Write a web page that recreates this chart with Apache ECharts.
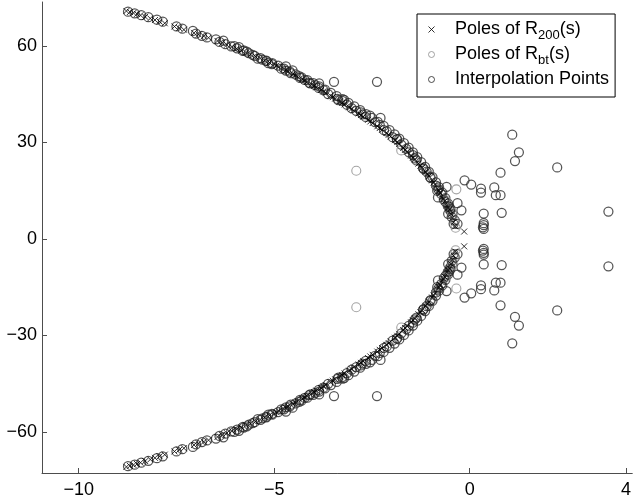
<!DOCTYPE html>
<html>
<head>
<meta charset="utf-8">
<script src="https://cdn.jsdelivr.net/npm/echarts@6/dist/echarts.min.js"></script>
<style>
  html, body { margin: 0; padding: 0; background: #fff; }
  #chart { width: 634px; height: 500px; }
</style>
</head>
<body>
<div id="chart"></div>
<script>
// Tick positions on both axes
const xTicks = [-10, -5, 0, 4];
const yTicks = [-60, -30, 0, 30, 60];

// Legend entries
const names = ['Poles of R200(s)', 'Poles of Rbt(s)', 'Interpolation Points'];

// Poles of R_200(s), upper half plane  [Re, Im]
const polesR200Upper = [
  [-8.78,70.8],[-8.69,70.5],[-8.60,70.2],[-8.51,69.9],[-8.42,69.5],[-8.30,69.0],[-8.17,68.5],[-8.05,68.0],[-7.93,67.5],[-7.80,67.0],
  [-7.55,66.0],[-7.43,65.5],[-7.31,65.0],
  [-7.05,64.0],[-6.93,63.5],[-6.80,63.0],[-6.68,62.5],
  [-6.45,61.5],[-6.33,60.9],[-6.21,60.3],[-6.08,59.7],[-5.96,59.1],[-5.84,58.5],[-5.72,57.9],[-5.60,57.3],[-5.48,56.7],
  [-5.36,56.1],[-5.24,55.4],[-5.12,54.8],[-5.00,54.2],[-4.94,53.85],[-4.88,53.5],[-4.76,52.8],[-4.70,52.4],[-4.64,52.0],
  [-4.52,51.2],[-4.46,50.8],[-4.40,50.4],[-4.28,49.6],[-4.22,49.2],[-4.16,48.8],[-4.04,48.0],[-3.98,47.55],[-3.92,47.1],
  [-3.80,46.3],[-3.74,45.85],[-3.68,45.4],[-3.56,44.5],[-3.50,44.05],[-3.44,43.6],[-3.32,42.7],[-3.26,42.25],[-3.20,41.8],
  [-3.08,40.9],[-3.02,40.4],[-2.96,39.9],[-2.84,39.0],[-2.78,38.5],[-2.72,38.0],[-2.60,37.0],[-2.54,36.5],[-2.48,36.0],
  [-2.36,35.0],[-2.30,34.45],[-2.24,33.9],[-2.13,32.9],[-2.07,32.35],[-2.02,31.8],[-1.91,30.7],[-1.85,30.1],[-1.80,29.5],
  [-1.70,28.3],[-1.65,27.7],[-1.60,27.1],[-1.50,25.9],[-1.45,25.3],[-1.40,24.7],[-1.31,23.4],[-1.26,22.75],[-1.22,22.1],
  [-1.13,20.8],[-1.08,20.15],[-1.04,19.5],[-0.96,18.2],[-0.92,17.55],[-0.89,16.9],[-0.82,15.6],[-0.79,14.95],[-0.76,14.3],
  [-0.70,13.0],[-0.67,12.35],[-0.64,11.7],[-0.58,10.4],[-0.55,9.75],[-0.52,9.1],[-0.48,7.8],[-0.44,6.5],[-0.41,5.2],
  [-0.37,3.9],[-0.14,2.3]
];
// Poles of R_200(s), lower half plane
const polesR200Lower = [
  [-8.78,-70.8],[-8.69,-70.5],[-8.60,-70.2],[-8.51,-69.9],[-8.42,-69.5],[-8.30,-69.0],[-8.17,-68.5],[-8.05,-68.0],[-7.93,-67.5],[-7.80,-67.0],
  [-7.55,-66.0],[-7.43,-65.5],[-7.31,-65.0],
  [-7.05,-64.0],[-6.93,-63.5],[-6.80,-63.0],[-6.68,-62.5],
  [-6.45,-61.5],[-6.33,-60.9],[-6.21,-60.3],[-6.08,-59.7],[-5.96,-59.1],[-5.84,-58.5],[-5.72,-57.9],[-5.60,-57.3],[-5.48,-56.7],
  [-5.36,-56.1],[-5.24,-55.4],[-5.12,-54.8],[-5.00,-54.2],[-4.94,-53.85],[-4.88,-53.5],[-4.76,-52.8],[-4.70,-52.4],[-4.64,-52.0],
  [-4.52,-51.2],[-4.46,-50.8],[-4.40,-50.4],[-4.28,-49.6],[-4.22,-49.2],[-4.16,-48.8],[-4.04,-48.0],[-3.98,-47.55],[-3.92,-47.1],
  [-3.80,-46.3],[-3.74,-45.85],[-3.68,-45.4],[-3.56,-44.5],[-3.50,-44.05],[-3.44,-43.6],[-3.32,-42.7],[-3.26,-42.25],[-3.20,-41.8],
  [-3.08,-40.9],[-3.02,-40.4],[-2.96,-39.9],[-2.84,-39.0],[-2.78,-38.5],[-2.72,-38.0],[-2.60,-37.0],[-2.54,-36.5],[-2.48,-36.0],
  [-2.36,-35.0],[-2.30,-34.45],[-2.24,-33.9],[-2.13,-32.9],[-2.07,-32.35],[-2.02,-31.8],[-1.91,-30.7],[-1.85,-30.1],[-1.80,-29.5],
  [-1.70,-28.3],[-1.65,-27.7],[-1.60,-27.1],[-1.50,-25.9],[-1.45,-25.3],[-1.40,-24.7],[-1.31,-23.4],[-1.26,-22.75],[-1.22,-22.1],
  [-1.13,-20.8],[-1.08,-20.15],[-1.04,-19.5],[-0.96,-18.2],[-0.92,-17.55],[-0.89,-16.9],[-0.82,-15.6],[-0.79,-14.95],[-0.76,-14.3],
  [-0.70,-13.0],[-0.67,-12.35],[-0.64,-11.7],[-0.58,-10.4],[-0.55,-9.75],[-0.52,-9.1],[-0.48,-7.8],[-0.44,-6.5],[-0.41,-5.2],
  [-0.37,-3.9],[-0.14,-2.3]
];

// Poles of the balanced-truncation model R_bt(s)
const polesRbt = [
  [-2.90,21.2],[-0.34,15.4],[-0.62,12.0],[-0.45,8.2],[-0.38,5.5],[-0.36,3.5],[-1.00,19.8],[-1.75,27.5],
  [-2.90,-21.2],[-0.34,-15.4],[-0.62,-12.0],[-0.45,-8.2],[-0.38,-5.5],[-0.36,-3.5],[-1.00,-19.8],[-1.75,-27.5]
];

// Interpolation points, upper half plane
const interpUpper = [
  [-8.74,70.6],[-8.57,70.1],[-8.40,69.5],[-8.22,68.9],[-8.00,68.1],[-7.85,67.5],
  [-7.50,66.0],[-7.35,65.3],[-7.08,64.6],[-7.00,63.8],[-6.85,63.1],[-6.72,62.6],[-6.49,62.0],
  [-6.40,61.2],[-6.30,61.6],[-6.25,60.5],[-6.10,59.8],[-5.90,59.6],[-5.95,59.2],[-5.80,58.4],[-5.65,57.7],[-5.50,56.9],
  [-5.42,56.0],[-5.35,56.2],[-5.20,55.4],[-5.15,54.6],[-5.05,54.6],[-4.90,53.8],[-4.82,52.9],[-4.75,52.9],[-4.70,53.6],
  [-4.53,52.4],[-4.60,52.0],[-4.45,51.1],[-4.36,50.6],[-4.30,50.2],[-4.15,49.3],[-4.08,48.3],[-3.85,48.3],[-3.47,48.8],
  [-2.37,48.8],[-4.00,48.4],[-3.95,47.8],[-3.85,47.4],[-3.70,46.4],[-3.62,45.0],[-3.55,45.4],[-3.40,44.4],[-3.36,43.1],
  [-3.21,43.2],[-3.25,43.4],[-3.10,42.3],[-3.02,40.6],[-2.95,41.2],[-2.80,40.0],[-2.74,38.7],[-2.65,38.8],[-2.55,38.3],
  [-2.50,37.6],[-2.28,37.6],[-2.42,36.3],[-2.35,36.4],[-2.20,35.1],[-2.12,33.4],[-2.05,33.8],[-1.92,32.5],[-1.86,31.0],
  [-1.80,31.2],[-1.68,29.8],[-1.62,28.0],[-1.56,28.4],[-1.45,26.9],[-1.40,25.0],[-1.34,25.4],[-1.24,23.9],[-1.19,22.0],
  [-1.14,22.4],[-1.04,20.8],[-1.00,19.0],[-0.95,19.2],[-0.86,17.6],[-0.59,16.2],[-0.78,16.0],[-0.83,15.0],[-0.81,12.9],
  [-0.70,14.4],[-0.62,12.7],[-0.66,12.2],[-0.31,11.1],[-0.55,11.0],[-0.52,10.0],[-0.21,8.9],[-0.49,9.3],[-0.55,7.8],
  [-0.44,7.6],[-0.46,6.8],[-0.41,4.7],[-0.31,4.7],[-0.38,5.8],
  [-6.02,59.9],[-5.78,58.6],[-5.55,57.2],[-5.30,55.7],[-5.06,54.3],[-4.58,51.5],[-4.34,50.0],[-4.10,48.5],
  [-3.86,46.9],[-3.38,43.5],[-3.14,41.7],[-2.90,39.8],[-2.66,37.9],[-2.19,33.8],[-1.97,31.6],[-1.75,29.3],
  [-1.55,26.9],[-1.36,24.4],[-1.18,21.8],[-1.01,19.2],[-0.86,16.6],[-0.73,14.0],[-0.61,11.4],[-0.50,8.8],
  [-5.70,58.2],[-5.20,55.2],[-4.70,52.3],[-4.22,49.4],[-3.74,46.2],[-3.26,42.9],[-2.78,39.3],[-2.30,35.4],
  [-1.86,30.9],[-1.45,26.0],[-1.10,20.9],[-0.80,15.4],[-0.56,10.3],
  [1.09,32.4],[1.26,26.9],[1.16,24.2],[2.24,22.2],[0.79,20.6],[3.55,8.5],[0.63,16.0],[0.29,15.6],
  [0.29,14.4],[0.67,13.6],[0.79,13.6],[0.36,7.9],[0.82,8.1],[0.36,4.9],[0.36,4.3],[0.34,3.6],[0.36,3.1],
  [-0.13,18.2],[0.04,16.9]
];
// Interpolation points, lower half plane
const interpLower = [
  [-8.74,-70.6],[-8.57,-70.1],[-8.40,-69.5],[-8.22,-68.9],[-8.00,-68.1],[-7.85,-67.5],
  [-7.50,-66.0],[-7.35,-65.3],[-7.08,-64.6],[-7.00,-63.8],[-6.85,-63.1],[-6.72,-62.6],[-6.49,-62.0],
  [-6.40,-61.2],[-6.30,-61.6],[-6.25,-60.5],[-6.10,-59.8],[-5.90,-59.6],[-5.95,-59.2],[-5.80,-58.4],[-5.65,-57.7],[-5.50,-56.9],
  [-5.42,-56.0],[-5.35,-56.2],[-5.20,-55.4],[-5.15,-54.6],[-5.05,-54.6],[-4.90,-53.8],[-4.82,-52.9],[-4.75,-52.9],[-4.70,-53.6],
  [-4.53,-52.4],[-4.60,-52.0],[-4.45,-51.1],[-4.36,-50.6],[-4.30,-50.2],[-4.15,-49.3],[-4.08,-48.3],[-3.85,-48.3],[-3.47,-48.8],
  [-2.37,-48.8],[-4.00,-48.4],[-3.95,-47.8],[-3.85,-47.4],[-3.70,-46.4],[-3.62,-45.0],[-3.55,-45.4],[-3.40,-44.4],[-3.36,-43.1],
  [-3.21,-43.2],[-3.25,-43.4],[-3.10,-42.3],[-3.02,-40.6],[-2.95,-41.2],[-2.80,-40.0],[-2.74,-38.7],[-2.65,-38.8],[-2.55,-38.3],
  [-2.50,-37.6],[-2.28,-37.6],[-2.42,-36.3],[-2.35,-36.4],[-2.20,-35.1],[-2.12,-33.4],[-2.05,-33.8],[-1.92,-32.5],[-1.86,-31.0],
  [-1.80,-31.2],[-1.68,-29.8],[-1.62,-28.0],[-1.56,-28.4],[-1.45,-26.9],[-1.40,-25.0],[-1.34,-25.4],[-1.24,-23.9],[-1.19,-22.0],
  [-1.14,-22.4],[-1.04,-20.8],[-1.00,-19.0],[-0.95,-19.2],[-0.86,-17.6],[-0.59,-16.2],[-0.78,-16.0],[-0.83,-15.0],[-0.81,-12.9],
  [-0.70,-14.4],[-0.62,-12.7],[-0.66,-12.2],[-0.31,-11.1],[-0.55,-11.0],[-0.52,-10.0],[-0.21,-8.9],[-0.49,-9.3],[-0.55,-7.8],
  [-0.44,-7.6],[-0.46,-6.8],[-0.41,-4.7],[-0.31,-4.7],[-0.38,-5.8],
  [-6.02,-59.9],[-5.78,-58.6],[-5.55,-57.2],[-5.30,-55.7],[-5.06,-54.3],[-4.58,-51.5],[-4.34,-50.0],[-4.10,-48.5],
  [-3.86,-46.9],[-3.38,-43.5],[-3.14,-41.7],[-2.90,-39.8],[-2.66,-37.9],[-2.19,-33.8],[-1.97,-31.6],[-1.75,-29.3],
  [-1.55,-26.9],[-1.36,-24.4],[-1.18,-21.8],[-1.01,-19.2],[-0.86,-16.6],[-0.73,-14.0],[-0.61,-11.4],[-0.50,-8.8],
  [-5.70,-58.2],[-5.20,-55.2],[-4.70,-52.3],[-4.22,-49.4],[-3.74,-46.2],[-3.26,-42.9],[-2.78,-39.3],[-2.30,-35.4],
  [-1.86,-30.9],[-1.45,-26.0],[-1.10,-20.9],[-0.80,-15.4],[-0.56,-10.3],
  [1.09,-32.4],[1.26,-26.9],[1.16,-24.2],[2.24,-22.2],[0.79,-20.6],[3.55,-8.5],[0.63,-16.0],[0.29,-15.6],
  [0.29,-14.4],[0.67,-13.6],[0.79,-13.6],[0.36,-7.9],[0.82,-8.1],[0.36,-4.9],[0.36,-4.3],[0.34,-3.6],[0.36,-3.1],
  [-0.13,-18.2],[0.04,-16.9]
];

const FONT = 'Liberation Sans, Arial, Helvetica, sans-serif';
const CROSS = 'path://M0,0L10,10M10,0L0,10';
const minus = v => String(v).replace('-', '\u2212');

const axisCommon = {
  type: 'value',
  splitLine: { show: false },
  axisLine: { onZero: false, lineStyle: { color: '#4d4d4d', width: 1 } },
  axisTick: { inside: true, length: 5, lineStyle: { color: '#4d4d4d', width: 1 } },
  axisLabel: { color: '#000', fontSize: 18, fontFamily: FONT, formatter: minus }
};

const chart = echarts.init(document.getElementById('chart'), null, { renderer: 'canvas' });

chart.setOption({
  animation: false,
  backgroundColor: '#fff',
  grid: { left: 42, right: 0, top: 2, bottom: 27, containLabel: false },
  xAxis: Object.assign({}, axisCommon, {
    min: -10.94, max: 4.16,
    axisTick: Object.assign({}, axisCommon.axisTick, { customValues: xTicks }),
    axisLabel: Object.assign({}, axisCommon.axisLabel, { customValues: xTicks, margin: 8 })
  }),
  yAxis: Object.assign({}, axisCommon, {
    min: -72.7, max: 73.6, position: 'left',
    axisTick: Object.assign({}, axisCommon.axisTick, { customValues: yTicks }),
    axisLabel: Object.assign({}, axisCommon.axisLabel, { customValues: yTicks, margin: 5 })
  }),
  legend: {
    orient: 'vertical',
    left: 417, top: 14,
    padding: [3, 6, 5, 11],
    itemWidth: 37, itemHeight: 6, itemGap: 0,
    selectedMode: false,
    backgroundColor: '#fff',
    borderColor: '#000', borderWidth: 1, borderRadius: 0,
    data: [
      { name: names[0], icon: CROSS, itemStyle: { color: 'rgba(0,0,0,0)', borderColor: '#000', borderWidth: 1 } },
      { name: names[1], icon: 'circle', itemStyle: { color: 'rgba(0,0,0,0)', borderColor: '#8c8c8c', borderWidth: 1 } },
      { name: names[2], icon: 'circle', itemStyle: { color: 'rgba(0,0,0,0)', borderColor: '#222', borderWidth: 1 } }
    ],
    textStyle: {
      fontSize: 18, fontFamily: FONT, color: '#000', lineHeight: 25,
      rich: {
        n: { fontSize: 18, fontFamily: FONT, color: '#000', lineHeight: 25 },
        s: { fontSize: 13, fontFamily: FONT, color: '#000', lineHeight: 4, verticalAlign: 'bottom' }
      }
    },
    formatter: function (name) {
      if (name === names[0]) return '{n|Poles of R}{s|200}{n|(s)}';
      if (name === names[1]) return '{n|Poles of R}{s|bt}{n|(s)}';
      return '{n|' + name + '}';
    }
  },
  series: [
    {
      name: names[2], type: 'scatter', silent: true,
      symbol: 'circle', symbolSize: 9,
      itemStyle: { color: 'rgba(0,0,0,0)', borderColor: '#2b2b2b', borderWidth: 1.25 },
      emphasis: { disabled: true },
      data: interpUpper.concat(interpLower)
    },
    {
      name: names[1], type: 'scatter', silent: true,
      symbol: 'circle', symbolSize: 9,
      itemStyle: { color: 'rgba(0,0,0,0)', borderColor: '#8c8c8c', borderWidth: 1.1 },
      emphasis: { disabled: true },
      data: polesRbt
    },
    {
      name: names[0], type: 'scatter', silent: true,
      symbol: CROSS, symbolSize: 6,
      itemStyle: { color: 'rgba(0,0,0,0)', borderColor: '#000', borderWidth: 1 },
      emphasis: { disabled: true },
      data: polesR200Upper.concat(polesR200Lower)
    }
  ]
});
</script>
</body>
</html>
